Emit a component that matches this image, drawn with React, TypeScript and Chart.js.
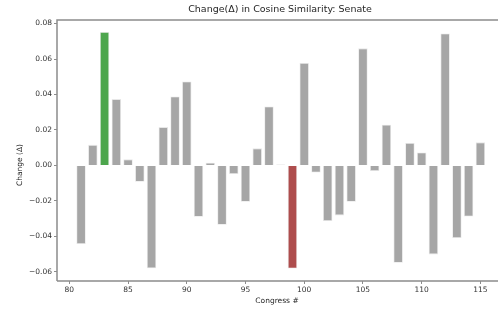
import React, { useEffect, useRef } from "react";
import { Chart, registerables } from "chart.js";

Chart.register(...registerables);

const congresses = [81, 82, 83, 84, 85, 86, 87, 88, 89, 90, 91, 92, 93, 94, 95, 96, 97, 98, 99, 100, 101, 102, 103, 104, 105, 106, 107, 108, 109, 110, 111, 112, 113, 114, 115];
const changes = [-0.0443, 0.0116, 0.0753, 0.0374, 0.0034, -0.0092, -0.058, 0.0216, 0.0389, 0.0473, -0.029, 0.0015, -0.0335, -0.0049, -0.0205, 0.0096, 0.0332, 0.0005, -0.0582, 0.0578, -0.004, -0.0314, -0.0282, -0.0205, 0.066, -0.0032, 0.0229, -0.0549, 0.0127, 0.0073, -0.0502, 0.0744, -0.041, -0.0288, 0.013];
const xTicks = [80, 85, 90, 95, 100, 105, 110, 115];
const yTicks = [-0.06, -0.04, -0.02, 0.0, 0.02, 0.04, 0.06, 0.08];
const maxCongress = 83;
const minCongress = 99;

const FONT = "'DejaVu Sans', sans-serif";

export default function App() {
  const ref = useRef<HTMLCanvasElement>(null);
  useEffect(() => {
    const canvas = ref.current!;
    const colors = congresses.map((c) =>
      c === maxCongress ? "#4da64d" : c === minCongress ? "#ae4d4d" : "#a6a6a6"
    );
    const frame = {
      id: "frame",
      afterDraw(chart: any) {
        const { ctx, chartArea } = chart;
        ctx.save();
        ctx.strokeStyle = "#8c8c8c";
        ctx.lineWidth = 1.5;
        ctx.beginPath();
        ctx.moveTo(chartArea.left, chartArea.bottom);
        ctx.lineTo(chartArea.left, chartArea.top);
        ctx.lineTo(chartArea.right + 5, chartArea.top);
        ctx.moveTo(chartArea.left, chartArea.bottom);
        ctx.lineTo(chartArea.right + 5, chartArea.bottom);
        ctx.stroke();
        ctx.fillStyle = "#262626";
        ctx.font = `9.5px ${FONT}`;
        ctx.textAlign = "center";
        ctx.textBaseline = "middle";
        ctx.fillText("Change(\u0394) in Cosine Similarity: Senate", 280, 10);
        ctx.font = `7.5px ${FONT}`;
        ctx.fillText("Congress #", 277, 301);
        ctx.translate(20, 165);
        ctx.rotate(-Math.PI / 2);
        ctx.fillText("Change (\u0394)", 0, 0);
        ctx.restore();
      },
    };
    const chart = new Chart(canvas, {
      type: "bar",
      data: {
        datasets: [
          {
            data: congresses.map((c, i) => ({ x: c, y: changes[i] })),
            backgroundColor: colors,
            borderColor: "rgba(225,225,225,0.8)",
            borderWidth: 0.8,
            barPercentage: 0.8,
            categoryPercentage: 1.0,
          },
        ],
      },
      options: {
        animation: false,
        responsive: false,
        maintainAspectRatio: false,
        layout: { padding: { left: 0, right: 0, top: 20, bottom: 0 } },
        plugins: { legend: { display: false }, tooltip: { enabled: false }, title: { display: false } },
        scales: {
          x: {
            type: "linear",
            offset: false,
            min: 78.95,
            max: 116.5,
            afterBuildTicks(scale: any) {
              scale.ticks = xTicks.map((v) => ({ value: v }));
            },
            afterFit(scale: any) {
              scale.height = 30;
            },
            grid: { offset: false, drawOnChartArea: false, drawTicks: true, tickLength: 3, color: "#8c8c8c" },
            border: { display: false },
            ticks: {
              font: { family: FONT, size: 7.5 },
              color: "#333333",
              padding: 2,
              maxRotation: 0,
              callback: (v: any) => String(v),
            },
          },
          y: {
            type: "linear",
            min: -0.0652,
            max: 0.082,
            afterBuildTicks(scale: any) {
              scale.ticks = yTicks.map((v) => ({ value: v }));
            },
            afterFit(scale: any) {
              scale.width = 57;
            },
            grid: { drawOnChartArea: false, drawTicks: true, tickLength: 3, color: "#8c8c8c" },
            border: { display: false },
            ticks: {
              font: { family: FONT, size: 7.5 },
              color: "#333333",
              padding: 2,
              callback: (v: any) => {
                const n = Number(v);
                const s = Math.abs(n).toFixed(2);
                return n < -1e-9 ? "\u2212" + s : s;
              },
            },
          },
        },
      },
      plugins: [frame],
    });
    return () => chart.destroy();
  }, []);
  return (
    <div style={{ position: "absolute", left: 0, top: 0, width: 498, height: 311, background: "#fff" }}>
      <canvas ref={ref} width={498} height={311} style={{ width: 498, height: 311, display: "block" }} />
    </div>
  );
}
